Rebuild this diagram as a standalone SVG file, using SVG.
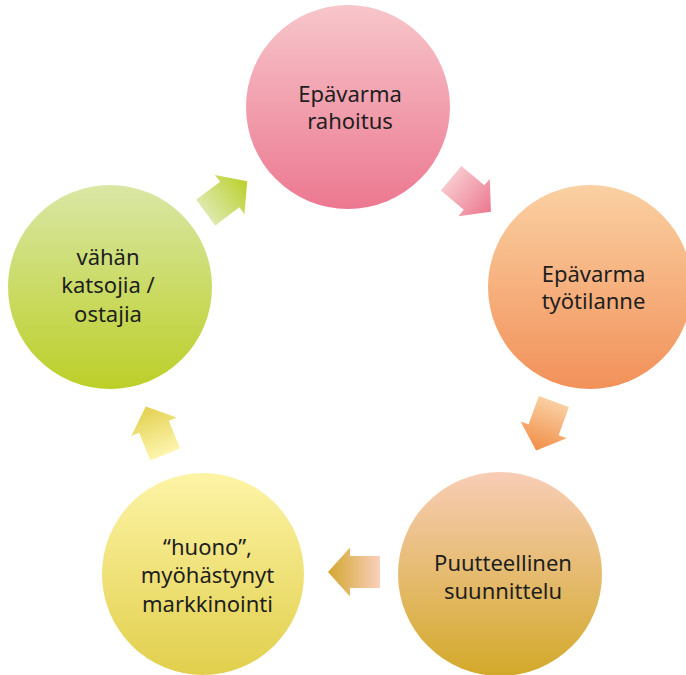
<svg xmlns="http://www.w3.org/2000/svg" width="686" height="675" viewBox="0 0 686 675">
<style>
text{font-family:"Noto Sans","DejaVu Sans",sans-serif;font-size:22px;fill:#1e1e1e;text-anchor:middle}
</style>
<defs>
<linearGradient id="g1" x1="0" y1="0" x2="0" y2="1"><stop offset="0" stop-color="#F7C6CB"/><stop offset="1" stop-color="#EC7890"/></linearGradient>
<linearGradient id="g2" x1="0" y1="0" x2="0" y2="1"><stop offset="0" stop-color="#FAD0A2"/><stop offset="1" stop-color="#F2915A"/></linearGradient>
<linearGradient id="g3" x1="0" y1="0" x2="0" y2="1"><stop offset="0" stop-color="#F8CDB6"/><stop offset="1" stop-color="#D3A92A"/></linearGradient>
<linearGradient id="g4" x1="0" y1="0" x2="0" y2="1"><stop offset="0" stop-color="#FDF4A6"/><stop offset="1" stop-color="#E1CF4C"/></linearGradient>
<linearGradient id="g5" x1="0" y1="0" x2="0" y2="1"><stop offset="0" stop-color="#D9E7A5"/><stop offset="1" stop-color="#BCCF28"/></linearGradient>
<linearGradient id="a1" x1="0" y1="0" x2="1" y2="0"><stop offset="0" stop-color="#F7C8CD"/><stop offset="1" stop-color="#EC7890"/></linearGradient>
<linearGradient id="a2" x1="0" y1="0" x2="1" y2="0"><stop offset="0" stop-color="#F9CFA2"/><stop offset="1" stop-color="#F28E48"/></linearGradient>
<linearGradient id="a3" x1="0" y1="0" x2="1" y2="0"><stop offset="0" stop-color="#F9D0BC"/><stop offset="1" stop-color="#D3A62E"/></linearGradient>
<linearGradient id="a4" x1="0" y1="0" x2="1" y2="0"><stop offset="0" stop-color="#FDF5AE"/><stop offset="1" stop-color="#E2D04E"/></linearGradient>
<linearGradient id="a5" x1="0" y1="0" x2="1" y2="0"><stop offset="0" stop-color="#DDE9AC"/><stop offset="1" stop-color="#BBD02C"/></linearGradient>
<path id="arr" d="M-26,-16 L4,-16 L4,-24.5 L26,0 L4,24.5 L4,16 L-26,16 Z"/>
</defs>
<g id="connectors">
<use href="#arr" fill="url(#a5)" transform="translate(226.5,197) rotate(-37)"/>
<use href="#arr" fill="url(#a1)" transform="translate(471,195) rotate(40)"/>
<use href="#arr" fill="url(#a2)" transform="translate(545,426) rotate(110)"/>
<use href="#arr" fill="url(#a3)" transform="translate(354,572) rotate(180)"/>
<use href="#arr" fill="url(#a4)" transform="translate(155.5,430.5) rotate(-112)"/>
</g>
<g id="n1"><circle cx="348" cy="107" r="102" fill="url(#g1)"/><text x="350" y="101.7">Epävarma</text><text x="350" y="129.3">rahoitus</text></g>
<g id="n2"><circle cx="590" cy="287" r="102" fill="url(#g2)"/><text x="593.5" y="281.7">Epävarma</text><text x="593.5" y="309.3">työtilanne</text></g>
<g id="n3"><circle cx="500" cy="574" r="102" fill="url(#g3)"/><text x="503" y="570.7">Puutteellinen</text><text x="503" y="599.3">suunnittelu</text></g>
<g id="n4"><circle cx="203" cy="574" r="101" fill="url(#g4)"/><text x="207.5" y="555">“huono”,</text><text x="207.5" y="583.3">myöhästynyt</text><text x="207.5" y="611.7">markkinointi</text></g>
<g id="n5"><circle cx="110" cy="287" r="102" fill="url(#g5)"/><text x="108" y="265">vähän</text><text x="108" y="293.3">katsojia /</text><text x="108" y="321.7">ostajia</text></g>
</svg>
